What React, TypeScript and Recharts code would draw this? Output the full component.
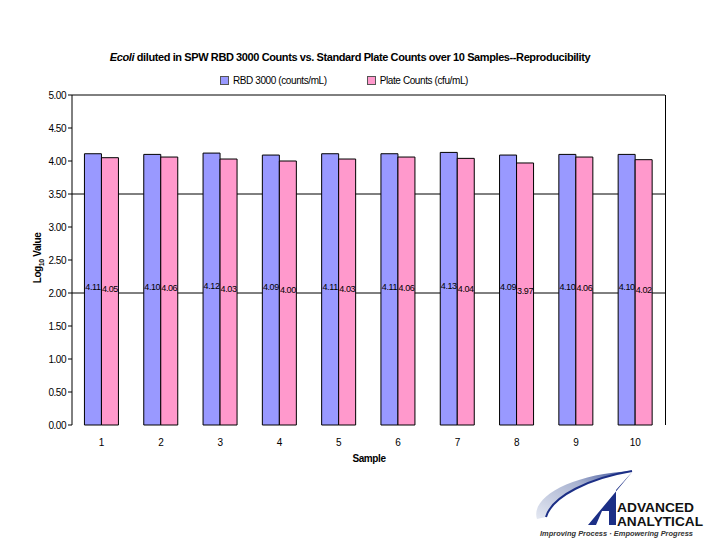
import React from 'react';
import {
  BarChart,
  Bar,
  XAxis,
  YAxis,
  CartesianGrid,
  LabelList,
} from 'recharts';

const samples = ['1', '2', '3', '4', '5', '6', '7', '8', '9', '10'];
const rbdCounts = [4.11, 4.10, 4.12, 4.09, 4.11, 4.11, 4.13, 4.09, 4.10, 4.10];
const plateCounts = [4.05, 4.06, 4.03, 4.00, 4.03, 4.06, 4.04, 3.97, 4.06, 4.02];
const yTicks = [0, 0.5, 1, 1.5, 2, 2.5, 3, 3.5, 4, 4.5, 5];
// only these gridlines show in the original
const gridValues = [5, 3.5, 2];

const data = samples.map((s, i) => ({
  sample: s,
  rbd: rbdCounts[i],
  plate: plateCounts[i],
}));

const FONT = '"Liberation Sans", Arial, sans-serif';
const BLUE = '#9999FF';
const PINK = '#FF99CC';

// Company logo in the bottom right corner
const Logo = () => (
  <svg width={180} height={80} style={{ position: 'absolute', left: 530, top: 462 }}>
    <defs>
      <linearGradient id="swoosh" x1="0" y1="1" x2="1" y2="0">
        <stop offset="0%" stopColor="#e4e8f2" />
        <stop offset="60%" stopColor="#a8b2d0" />
        <stop offset="100%" stopColor="#3a4f9a" />
      </linearGradient>
    </defs>
    <path d="M 7 57 C 0 36, 40 12, 102 9 C 60 16, 22 34, 16 55 Z" fill="url(#swoosh)" />
    <path d="M 16 55 C 22 34, 60 16, 102 9" stroke="#1c2f86" strokeWidth={2} fill="none" />
    <path d="M 58 63 L 103 9 L 86 28 L 86 63 L 79 63 L 79 49 L 72 49 L 66 63 Z" fill="#1c2f86" />
    <text x={87} y={50} fontFamily={FONT} fontWeight={700} fontSize={12.5} fill="#111" textLength={77} lengthAdjust="spacingAndGlyphs">ADVANCED</text>
    <text x={87} y={64} fontFamily={FONT} fontWeight={700} fontSize={12.5} fill="#111" textLength={86} lengthAdjust="spacingAndGlyphs">ANALYTICAL</text>
    <text x={10} y={74} fontFamily={FONT} fontStyle="italic" fontWeight={700} fontSize={7} fill="#333" textLength={153} lengthAdjust="spacingAndGlyphs">
      Improving Process · Empowering Progress
    </text>
  </svg>
);

const App: React.FC = () => {
  return (
    <div style={{ position: 'absolute', left: 0, top: 0, width: 720, height: 540, background: '#fff', fontFamily: FONT }}>
      {/* Title */}
      <div style={{
        position: 'absolute', left: 0, top: 51, width: 700, textAlign: 'center',
        fontSize: 11, fontWeight: 700, letterSpacing: -0.4, color: '#000',
      }}>
        <i>Ecoli</i> diluted in SPW RBD 3000 Counts vs. Standard Plate Counts over 10 Samples--Reproducibility
      </div>

      {/* Legend */}
      <div style={{ position: 'absolute', left: 220, top: 75, fontSize: 10, letterSpacing: -0.4, display: 'flex', alignItems: 'center' }}>
        <span style={{ width: 7, height: 7, background: BLUE, border: '1px solid #555', marginRight: 4 }} />
        <span>RBD 3000 (counts/mL)</span>
        <span style={{ width: 7, height: 7, background: PINK, border: '1px solid #555', marginLeft: 40, marginRight: 4 }} />
        <span>Plate Counts (cfu/mL)</span>
      </div>

      {/* Y axis title */}
      <div style={{
        position: 'absolute', left: 38, top: 258, transform: 'translate(-50%, -50%) rotate(-90deg)',
        fontSize: 10, fontWeight: 700, letterSpacing: -0.4, whiteSpace: 'nowrap',
      }}>
        Log<sub style={{ fontSize: 7 }}>10</sub> Value
      </div>

      {/* X axis title */}
      <div style={{ position: 'absolute', left: 369, top: 453, transform: 'translateX(-50%)', fontSize: 10, fontWeight: 700, letterSpacing: -0.4 }}>
        Sample
      </div>

      <div style={{ position: 'absolute', left: 0, top: 0 }}>
        <BarChart
          width={720}
          height={540}
          data={data}
          margin={{ top: 95, right: 55, bottom: 85, left: 22 }}
          barCategoryGap="21%"
          barGap={0}
        >
          <CartesianGrid
            vertical={false}
            stroke="#000"
            strokeOpacity={1}
            horizontalValues={gridValues}
          />
          <XAxis
            dataKey="sample"
            axisLine={false}
            tickLine={false}
            height={30}
            tickMargin={8}
            tick={{ fontSize: 10, fill: '#000', fontFamily: FONT }}
          />
          <YAxis
            domain={[0, 5]}
            ticks={yTicks}
            width={50}
            interval={0}
            tickFormatter={(v: number) => v.toFixed(2)}
            axisLine={{ stroke: '#000' }}
            tickLine={{ stroke: '#000' }}
            tickSize={4}
            tickMargin={2}
            tick={{ fontSize: 10, fill: '#000', fontFamily: FONT, letterSpacing: -0.5 }}
          />
          <Bar dataKey="rbd" fill={BLUE} stroke="#000" strokeWidth={1} isAnimationActive={false}>
            <LabelList dataKey="rbd" position="center" dy={-3} fontSize={9} fill="#000" fontFamily={FONT} letterSpacing={-0.4}
              formatter={(v: any) => Number(v).toFixed(2)} />
          </Bar>
          <Bar dataKey="plate" fill={PINK} stroke="#000" strokeWidth={1} isAnimationActive={false}>
            <LabelList dataKey="plate" position="center" dy={-3} fontSize={9} fill="#000" fontFamily={FONT} letterSpacing={-0.4}
              formatter={(v: any) => Number(v).toFixed(2)} />
          </Bar>
        </BarChart>
      </div>

      {/* Right border of plot area */}
      <div style={{ position: 'absolute', left: 665, top: 95, width: 0, height: 330, borderLeft: '1px solid #000' }} />

      <Logo />
    </div>
  );
};

export default App;
